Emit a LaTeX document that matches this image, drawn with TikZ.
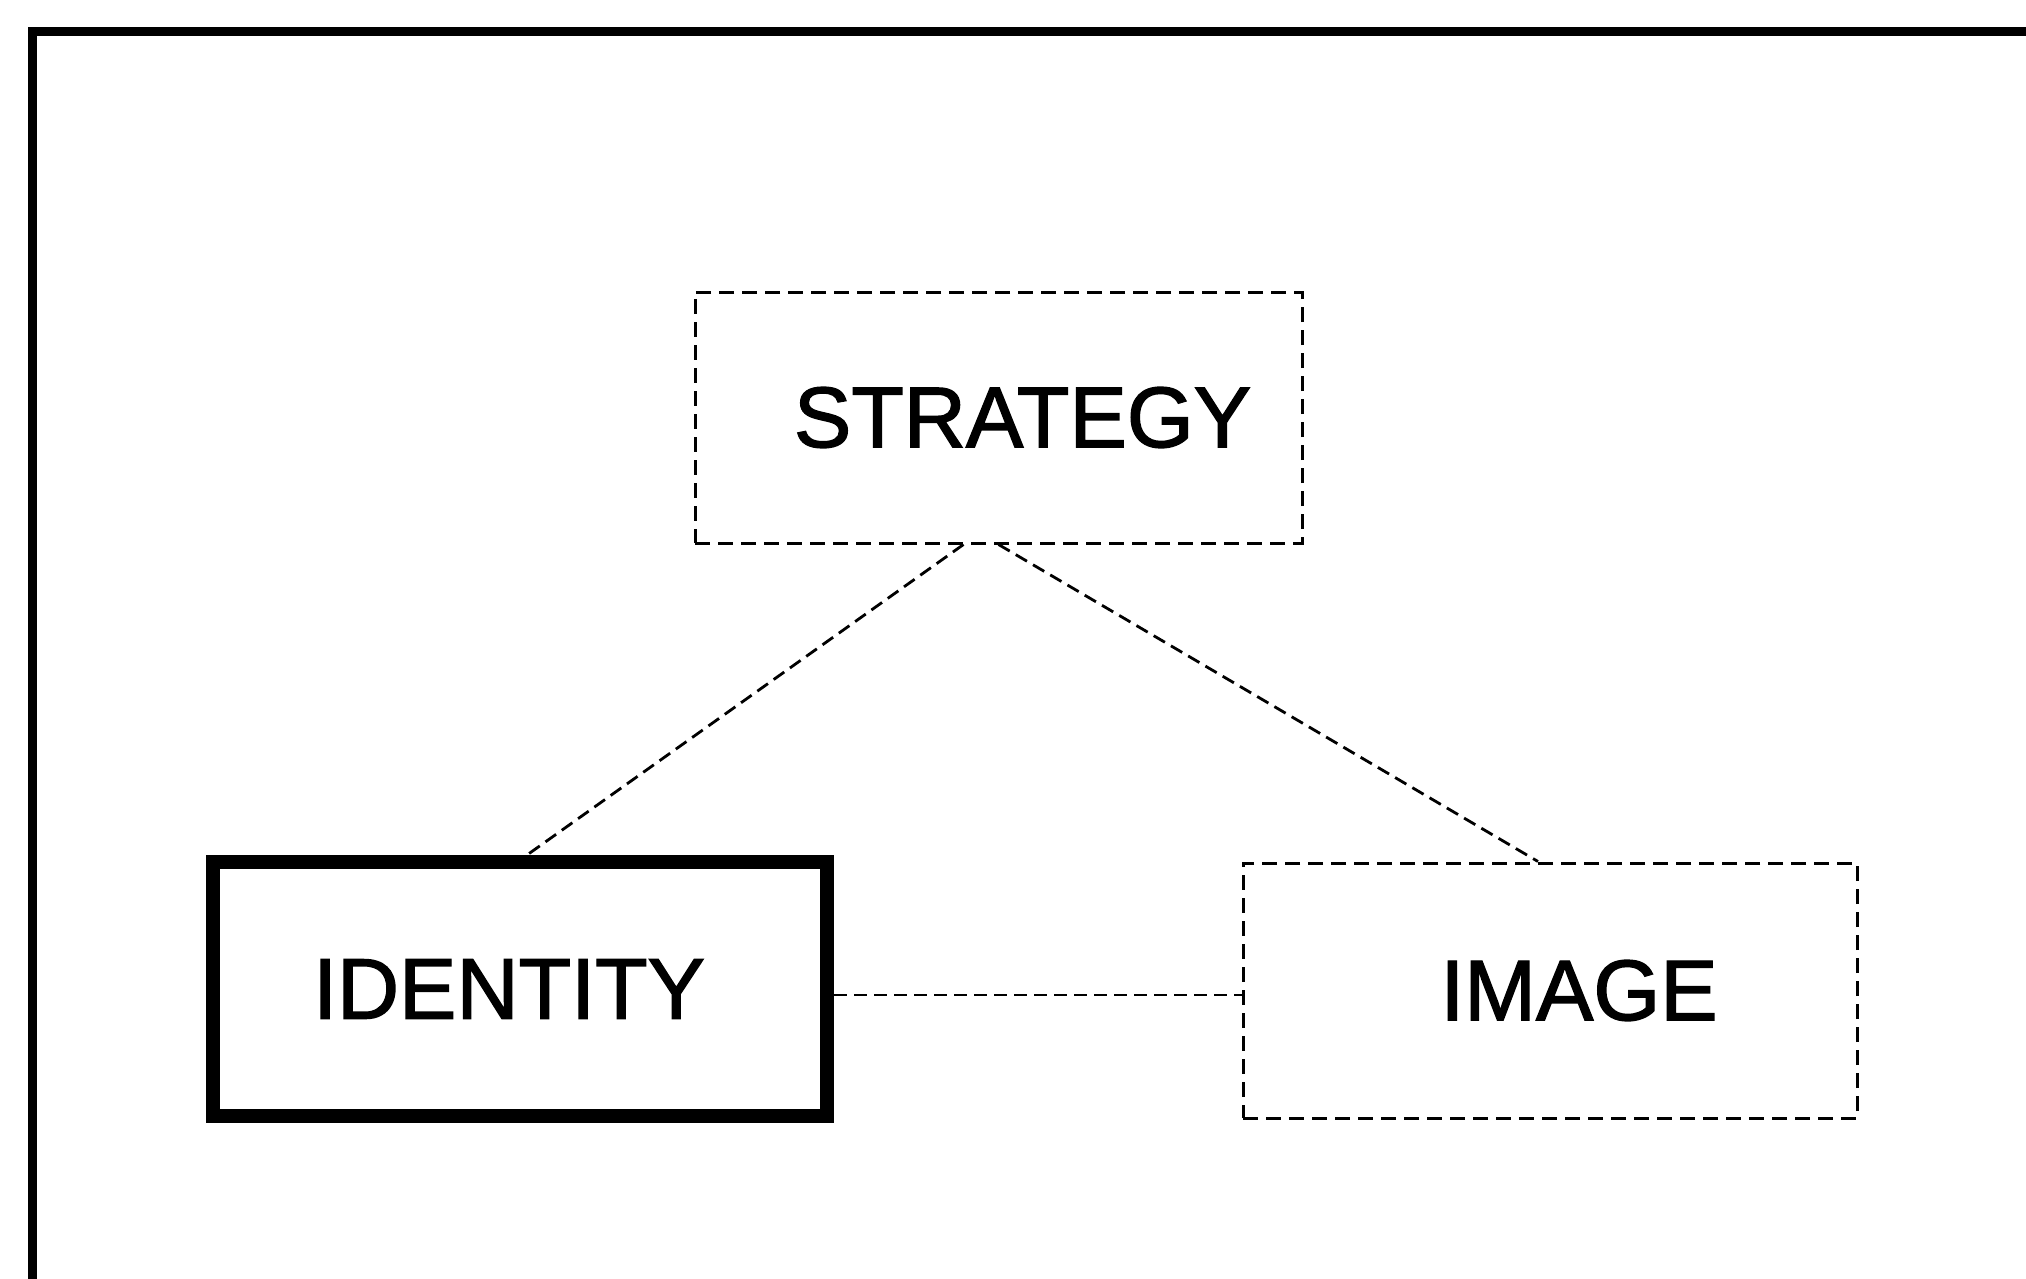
\documentclass[tikz,border=0pt]{standalone}
\usepackage{fontspec}
\setmainfont{Liberation Sans}
\newfontfamily\boxfont{Liberation Sans}[FakeBold=1.6]
\begin{document}
\begin{tikzpicture}[x=1pt,y=-1pt,
  dashedbox/.style={draw, line width=3pt, dash pattern=on 15pt off 8pt, rectangle, inner sep=0pt},
  solidbox/.style={draw, line width=14pt, rectangle, inner sep=0pt},
  link/.style={line width=2.8pt, dash pattern=on 13pt off 7pt},
  label/.style={font=\boxfont\fontsize{86}{100}\selectfont}]
  \useasboundingbox[fill=white] (0,0) rectangle (2026,1279);
  % outer frame (top and left edges)
  \draw[line width=9pt] (32,1279) -- (32,32) -- (2026,32);
  % boxes
  \node[dashedbox, label, minimum width=607, minimum height=251] (s) at (998.5,417.5) {\hspace*{48pt}STRATEGY};
  \node[solidbox, label, minimum width=614, minimum height=254] (i) at (520,989) {IDENTITY\hspace*{22pt}};
  \node[dashedbox, label, minimum width=614, minimum height=255] (m) at (1550,990.5) {\hspace*{58pt}IMAGE};
  % links
  \draw[link] ([xshift=-35pt]s.south) -- ([xshift=7pt]i.north);
  \draw[link] (s.south) -- ([xshift=-12pt]m.north);
  \draw[link] ([yshift=-6pt]i.east) -- ([yshift=-4.5pt]m.west);
\end{tikzpicture}
\end{document}
